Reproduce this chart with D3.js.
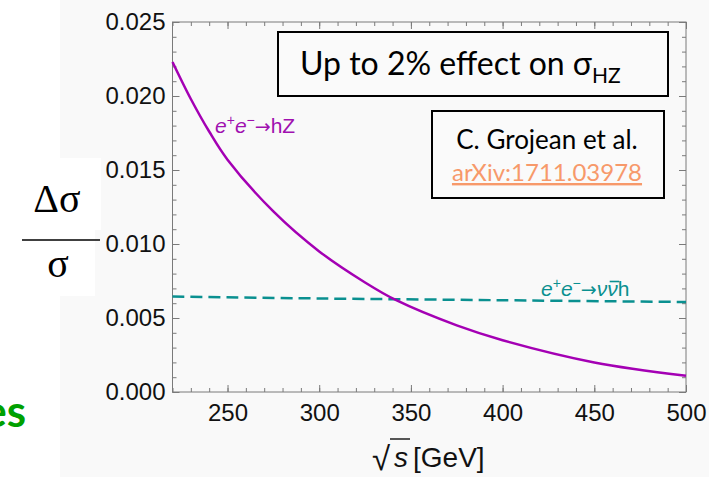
<!DOCTYPE html>
<html>
<head>
<meta charset="utf-8">
<script src="https://cdn.jsdelivr.net/npm/d3@7"></script>
<style>
  body { margin: 0; background: #fff; }
  svg { display: block; }
</style>
</head>
<body>
<svg width="722" height="477"></svg>
<script>
"use strict"

// values
let energy = [220, 230, 240, 250, 275, 300, 325, 342, 375, 400, 450, 500]
let hzEffect = [0.0223, 0.0198, 0.0176, 0.0157, 0.0122, 0.0095, 0.0074, 0.0062, 0.0045, 0.0035, 0.0020, 0.0011]
let nuEnergy = [220, 300, 400, 500]
let nuEffect = [0.00645, 0.00632, 0.0062, 0.00608]

let xMajor = [250, 300, 350, 400, 450, 500]
let xMinor = d3.range(220, 501, 10)
let yMajor = [0, 0.005, 0.010, 0.015, 0.020, 0.025]
let yMinor = d3.range(0, 0.0251, 0.001)

let svg = d3.select("svg")
let frame = {left: 172.5, right: 686, top: 22, bottom: 392}

let x = d3.scaleLinear().domain([220, 500]).range([frame.left, frame.right])
let y = d3.scaleLinear().domain([0, 0.025]).range([frame.bottom, frame.top])

// slide backdrop
svg.append("rect").attr("x", 60).attr("y", 0).attr("width", 649).attr("height", 477)
    .attr("fill", "#f9f9f9")
svg.append("rect").attr("x", 0).attr("y", 158).attr("width", 101).attr("height", 72)
    .attr("fill", "#fff")
svg.append("rect").attr("x", 0).attr("y", 229).attr("width", 95).attr("height", 67)
    .attr("fill", "#fff")

function drawAxis(gen, translate, fmt, size, pad) {
    let g = svg.append("g")
	.attr("transform", translate)
	.call(gen.tickSize(size).tickPadding(pad).tickFormat(fmt))
    g.select(".domain").remove()
    g.selectAll("line").attr("stroke", "#7a7a7a")
    g.selectAll("text")
	.attr("font-family", "Liberation Sans, Arial, sans-serif")
	.attr("font-size", 24)
	.attr("fill", "#111")
    return g
}

let noLabel = () => ""
// bottom & left with labels
drawAxis(d3.axisBottom(x).tickValues(xMajor), "translate(0," + frame.bottom + ")", d3.format("d"), -7, 12)
drawAxis(d3.axisBottom(x).tickValues(xMinor), "translate(0," + frame.bottom + ")", noLabel, -4, 0)
drawAxis(d3.axisLeft(y).tickValues(yMajor), "translate(" + frame.left + ",0)", d3.format(".3f"), -7, 7)
drawAxis(d3.axisLeft(y).tickValues(yMinor), "translate(" + frame.left + ",0)", noLabel, -4, 0)
// top & right, ticks only
drawAxis(d3.axisTop(x).tickValues(xMajor), "translate(0," + frame.top + ")", noLabel, -7, 0)
drawAxis(d3.axisTop(x).tickValues(xMinor), "translate(0," + frame.top + ")", noLabel, -4, 0)
drawAxis(d3.axisRight(y).tickValues(yMajor), "translate(" + frame.right + ",0)", noLabel, -7, 0)
drawAxis(d3.axisRight(y).tickValues(yMinor), "translate(" + frame.right + ",0)", noLabel, -4, 0)

svg.append("rect")
    .attr("x", frame.left).attr("y", frame.top)
    .attr("width", frame.right - frame.left).attr("height", frame.bottom - frame.top)
    .attr("fill", "none").attr("stroke", "#7a7a7a").attr("stroke-width", 1)

// curves
let line = d3.line().x(d => x(d[0])).y(d => y(d[1])).curve(d3.curveCatmullRom.alpha(0.5))

svg.append("path")
    .datum(d3.zip(nuEnergy, nuEffect))
    .attr("d", line)
    .attr("fill", "none")
    .attr("stroke", "#0a9090")
    .attr("stroke-width", 2.5)
    .attr("stroke-dasharray", "12,6")

svg.append("path")
    .datum(d3.zip(energy, hzEffect))
    .attr("d", line)
    .attr("fill", "none")
    .attr("stroke", "#a400b4")
    .attr("stroke-width", 2.5)

// curve labels
function process(xPos, yPos, color, tail, overNu) {
    let t = svg.append("text")
	.attr("x", xPos).attr("y", yPos)
	.attr("font-family", "Liberation Sans, Arial, sans-serif")
	.attr("font-size", 21)
	.attr("fill", color)
    t.append("tspan").attr("font-style", "italic").text("e")
    t.append("tspan").attr("dy", -8).attr("font-size", 14).text("+")
    t.append("tspan").attr("dy", 8).attr("font-style", "italic").text("e")
    t.append("tspan").attr("dy", -8).attr("font-size", 14).text("\u2212")
    t.append("tspan").attr("dy", 8).attr("font-family", "DejaVu Sans")
	.attr("font-size", 19).text("\u2192")
    if (overNu) {
	t.append("tspan").attr("font-style", "italic").text("\u03bd")
	t.append("tspan").attr("font-style", "italic").text("\u03bd")
    }
    t.append("tspan").text(tail)
    if (overNu) {
	// bar over the antineutrino (6th character)
	let box = t.node().getExtentOfChar(6)
	svg.append("line")
	    .attr("x1", box.x + 2.5).attr("x2", box.x + box.width + 1.5)
	    .attr("y1", yPos - 14.5).attr("y2", yPos - 14.5)
	    .attr("stroke", color).attr("stroke-width", 1.6)
    }
}
process(215, 133, "#a010b0", "hZ", false)
process(541, 296, "#0a9090", "h", true)

// annotation boxes
svg.append("rect").attr("x", 278).attr("y", 32).attr("width", 390).attr("height", 64)
    .attr("fill", "#fafafa").attr("stroke", "#000").attr("stroke-width", 2)
let title = svg.append("text")
    .attr("x", 300).attr("y", 75)
    .attr("font-family", "Lato, Open Sans, sans-serif")
    .attr("font-size", 32)
    .attr("fill", "#000")
title.append("tspan").text("Up to 2% effect on \u03c3")
title.append("tspan").attr("dy", 8).attr("font-size", 21).text("HZ")

svg.append("rect").attr("x", 432).attr("y", 111).attr("width", 232).attr("height", 87)
    .attr("fill", "#fafafa").attr("stroke", "#000").attr("stroke-width", 2)
svg.append("text")
    .attr("x", 547).attr("y", 149)
    .attr("text-anchor", "middle")
    .attr("font-family", "Lato, Open Sans, sans-serif")
    .attr("font-size", 26)
    .attr("fill", "#000")
    .text("C. Grojean et al.")
svg.append("text")
    .attr("x", 547).attr("y", 181)
    .attr("text-anchor", "middle")
    .attr("font-family", "Lato, Open Sans, sans-serif")
    .attr("font-size", 24)
    .attr("fill", "#f7996a")
    .style("text-decoration", "underline")
    .text("arXiv:1711.03978")

// axis titles
let xt = svg.append("g").attr("font-family", "Liberation Sans, Arial, sans-serif")
    .attr("fill", "#111")
xt.append("text").attr("x", 372).attr("y", 470).attr("font-size", 33).text("\u221a")
xt.append("text").attr("x", 394).attr("y", 467).attr("font-size", 28)
    .attr("font-style", "italic").text("s")
xt.append("line").attr("x1", 390).attr("x2", 410).attr("y1", 439).attr("y2", 439)
    .attr("stroke", "#111").attr("stroke-width", 1.4)
xt.append("text").attr("x", 413).attr("y", 467).attr("font-size", 28).text("[GeV]")

let yt = svg.append("g").attr("font-family", "Liberation Serif, Times New Roman, serif")
    .attr("font-size", 40).attr("fill", "#000").attr("text-anchor", "middle")
yt.append("text").attr("x", 57).attr("y", 212).text("\u0394\u03c3")
yt.append("line").attr("x1", 22).attr("x2", 100).attr("y1", 240).attr("y2", 240)
    .attr("stroke", "#000").attr("stroke-width", 1.6)
yt.append("text").attr("x", 58).attr("y", 277).text("\u03c3")

// cut-off slide text at the left edge, as in the picture
svg.append("text")
    .attr("x", 26).attr("y", 427)
    .attr("text-anchor", "end")
    .attr("font-family", "Lato, Open Sans, sans-serif")
    .attr("font-weight", "bold")
    .attr("font-size", 44)
    .attr("fill", "#00a000")
    .text("es")
</script>
</body>
</html>
